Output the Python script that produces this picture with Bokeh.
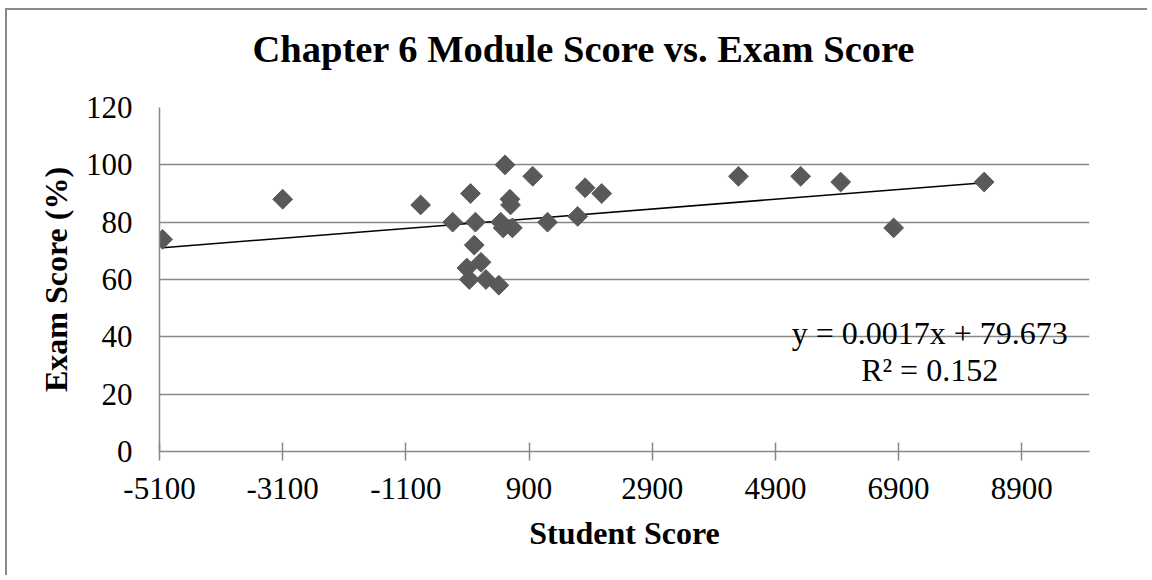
import numpy as np
from bokeh.plotting import figure
from bokeh.models import FixedTicker, Label, ColumnDataSource, Title
from bokeh.embed import file_html
from bokeh.resources import INLINE

# ---- data ----
student_score = [-5050, -3100, -860, -340, -50, 30, 10, -110, 120, -70, 200, 410,
                 510, 960, 590, 600, 440, 480, 630, 1200, 1690, 1810, 2080,
                 4300, 5310, 5960, 8290, 6820]
exam_score = [74, 88, 86, 80, 90, 80, 72, 64, 66, 60, 60, 58,
              100, 96, 88, 86, 80, 78, 78, 80, 82, 92, 90,
              96, 96, 94, 94, 78]
x_ticks = [-5100, -3100, -1100, 900, 2900, 4900, 6900, 8900]
x_tick_labels = ["-5100", "-3100", "-1100", "900", "2900", "4900", "6900", "8900"]
y_ticks = [0, 20, 40, 60, 80, 100, 120]
trend_slope = 0.0017
trend_intercept = 79.673
r_squared = 0.152

title_text = "Chapter 6 Module Score vs. Exam Score"
x_title = "Student Score"
y_title = "Exam Score (%)"

GRAY = "#898989"
SERIF = "Liberation Serif"

p = figure(
    frame_width=930, frame_height=344,
    min_border_left=152, min_border_right=60,
    min_border_top=97, min_border_bottom=126,
    x_range=(-5100, 10000), y_range=(0, 120),
    output_backend="svg", toolbar_location=None,
    background_fill_color="white", border_fill_color="white",
    styles={"margin-left": "7px", "margin-top": "10px",
            "box-shadow": "-2px -2px 0px 0px #8a8a8a"},
)
p.outline_line_color = None

# spacer between title and plot area
p.add_layout(Title(text=" ", text_font_size="2px", standoff=24), "above")

# title
p.title.text = title_text
p.title.text_font = SERIF
p.title.text_font_style = "bold"
p.title.text_font_size = "38.5px"
p.title.text_color = "black"
p.title.align = "left"
p.title.offset = 93
p.title.standoff = 20

# grid
p.xgrid.grid_line_color = None
p.ygrid.grid_line_color = GRAY
p.ygrid.grid_line_width = 1.5
p.ygrid.ticker = FixedTicker(ticks=y_ticks)

# x axis
xa = p.xaxis[0]
xa.ticker = FixedTicker(ticks=x_ticks)
xa.major_label_overrides = {t: l for t, l in zip(x_ticks, x_tick_labels)}
xa.axis_line_color = GRAY
xa.axis_line_width = 1.5
xa.major_tick_line_color = GRAY
xa.major_tick_line_width = 1.5
xa.major_tick_in = 9
xa.major_tick_out = 9
xa.minor_tick_line_color = None
xa.major_label_text_font = SERIF
xa.major_label_text_font_size = "31px"
xa.major_label_text_color = "black"
xa.major_label_standoff = 17
xa.axis_label = x_title
xa.axis_label_text_font = SERIF
xa.axis_label_text_font_style = "bold"
xa.axis_label_text_font_size = "32px"
xa.axis_label_text_color = "black"
xa.axis_label_standoff = 13

# y axis
ya = p.yaxis[0]
ya.ticker = FixedTicker(ticks=y_ticks)
ya.axis_line_color = GRAY
ya.axis_line_width = 1.5
ya.major_tick_line_color = None
ya.major_tick_in = 0
ya.major_tick_out = 0
ya.minor_tick_line_color = None
ya.major_label_text_font = SERIF
ya.major_label_text_font_size = "31px"
ya.major_label_text_color = "black"
ya.major_label_standoff = 27
ya.axis_label = y_title
ya.axis_label_text_font = SERIF
ya.axis_label_text_font_style = "bold"
ya.axis_label_text_font_size = "32px"
ya.axis_label_text_color = "black"
ya.axis_label_standoff = 9

# trendline
x0, x1 = min(student_score), max(student_score)
tx = [x0, x1]
ty = [trend_slope * v + trend_intercept for v in tx]
p.line(tx, ty, line_color="black", line_width=1.5)

# points
src = ColumnDataSource(dict(x=student_score, y=exam_score))
p.scatter("x", "y", source=src, marker="square", size=14, angle=np.pi / 4,
          fill_color="#595959", line_color="#595959")

# equation labels
eq_x = 7405
p.add_layout(Label(x=eq_x, y=41.2, text=f"y = {trend_slope}x + {trend_intercept}",
                   text_align="center", text_baseline="alphabetic",
                   text_font=SERIF, text_font_size="32px", text_color="black"))
p.add_layout(Label(x=eq_x, y=28.4, text=f"R² = {r_squared}",
                   text_align="center", text_baseline="alphabetic",
                   text_font=SERIF, text_font_size="32px", text_color="black"))

open("out.html", "w").write(file_html(p, INLINE))
